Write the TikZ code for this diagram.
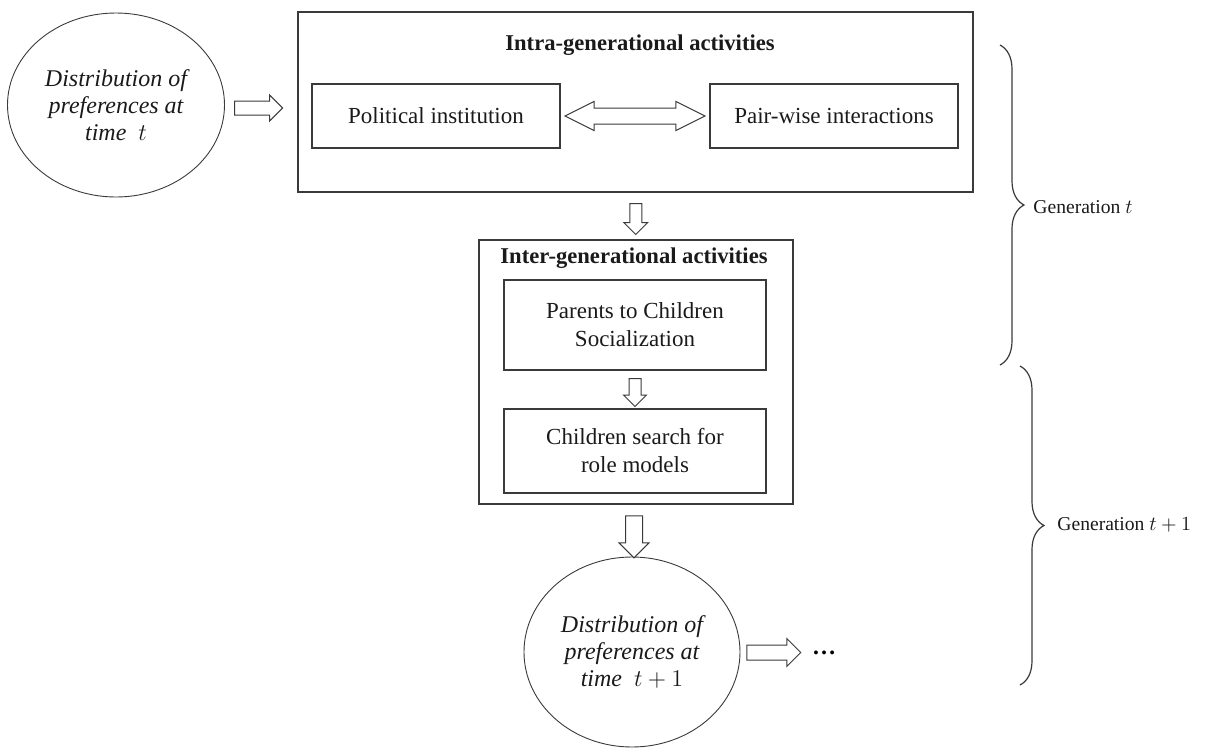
\documentclass[tikz,border=0pt]{standalone}
\usepackage{fontspec}
\setmainfont{Liberation Serif}
\usepackage{amsmath}
\usetikzlibrary{
  arrows.meta,
  shapes.geometric,
  shapes.arrows,
  positioning,
  calc,
  decorations.pathreplacing
}
\definecolor{genLine}{HTML}{3A3A3A}
\definecolor{genText}{HTML}{1A1A1A}
\tikzset{
  gennode/.style={
    draw=genLine, line width=0.6pt, font=\fontsize{11.5}{14}\selectfont,
    text=genText, align=center, inner sep=2pt
  },
  outerbox/.style={gennode, rectangle},
  innerbox/.style={gennode, rectangle},
  distell/.style={gennode, ellipse, line width=0.45pt, inner sep=0pt,
    font=\fontsize{12}{13.4}\selectfont\itshape},
  boxtitle/.style={font=\fontsize{11.3}{14}\selectfont\bfseries, text=genText, inner sep=0pt},
  hollowarrow/.style={single arrow, draw=genLine, line width=0.5pt, fill=white,
    inner xsep=0pt, single arrow tip angle=90},
  downarrow/.style={hollowarrow, shape border rotate=270, inner ysep=0pt},
  hollowdouble/.style={double arrow, draw=genLine, line width=0.5pt, fill=white,
    inner xsep=0pt, double arrow tip angle=53},
  genbrace/.style={decorate, decoration={brace, amplitude=12pt}, draw=genLine, line width=0.6pt},
  genlabel/.style={font=\fontsize{9.8}{12}\selectfont, text=genText, anchor=west, inner sep=0pt}
}

\begin{document}
\begin{tikzpicture}[x=0.5pt, y=-0.5pt]
  \useasboundingbox (0,0) rectangle (1207,751);

  % generation t
  \node[distell, minimum width=108.5pt, minimum height=92pt] (ellA) at (116,105)
    {Distribution of\\preferences at\\time\ \ $t$};
  \node[outerbox, minimum width=337.5pt, minimum height=90pt] (intraBox) at (635.5,102) {};
  \node[boxtitle] (intraTitle) at (640,45) {Intra-generational activities};
  \node[innerbox, minimum width=124pt, minimum height=32pt] (polBox) at (436,116) {Political institution};
  \node[innerbox, minimum width=124pt, minimum height=32pt] (pairBox) at (834,116) {Pair-wise interactions};

  \node[outerbox, minimum width=157pt, minimum height=132pt] (interBox) at (636,372) {};
  \node[boxtitle] (interTitle) at (634,258) {Inter-generational activities};
  \node[innerbox, minimum width=131pt, minimum height=45pt] (parBox) at (635,325) {Parents to Children\\Socialization};
  \node[innerbox, minimum width=131pt, minimum height=42pt] (roleBox) at (635,451) {Children search for\\role models};

  % generation t+1
  \node[distell, minimum width=108pt, minimum height=95pt] (ellB) at (632,652)
    {Distribution of\\preferences at\\time\ \ $t+1$};
  \node[font=\fontsize{12}{14}\selectfont\bfseries, inner sep=0pt] (dots) at (824,653) {\textellipsis};

  % block arrows
  \path (ellA.east) -- node[hollowarrow, minimum height=24pt, inner ysep=3.25pt,
    single arrow head extend=3pt, xshift=-3pt, yshift=-1.5pt] (arrA) {} (ellA.east -| intraBox.west);
  \path (polBox) -- node[hollowdouble, minimum height=70pt, inner ysep=3.75pt,
    double arrow head extend=3.25pt] (arrPol) {} (pairBox);
  \path (intraBox.south) -- node[downarrow, minimum height=15.5pt,
    inner xsep=2.75pt, single arrow head extend=3pt] (arrInter) {} (interBox.north);
  \path (parBox.south) -- node[downarrow, minimum height=14pt,
    inner xsep=2.75pt, single arrow head extend=2.75pt] (arrRole) {} (roleBox.north);
  \path (interBox.south) -- node[downarrow, minimum height=21pt,
    inner xsep=4pt, single arrow head extend=3.25pt, yshift=-1pt] (arrEll) {} (ellB.north);
  \path (ellB.east) -- node[hollowarrow, minimum height=27pt, inner ysep=3.5pt,
    single arrow head extend=3.25pt, xshift=-3pt] (arrDots) {} (dots.west);

  % braces
  \coordinate (genTtop) at (1000,45);
  \coordinate (genTbot) at (1000,365);
  \coordinate (genUtop) at (1020,366);
  \coordinate (genUbot) at (1020,685);
  \draw[genbrace] (genTtop) -- (genTbot);
  \draw[genbrace] (genUtop) -- (genUbot);
  \node[genlabel] (genT) at (1033,207) {Generation $t$};
  \node[genlabel] (genU) at (1057,525) {Generation $t+1$};
\end{tikzpicture}
\end{document}
